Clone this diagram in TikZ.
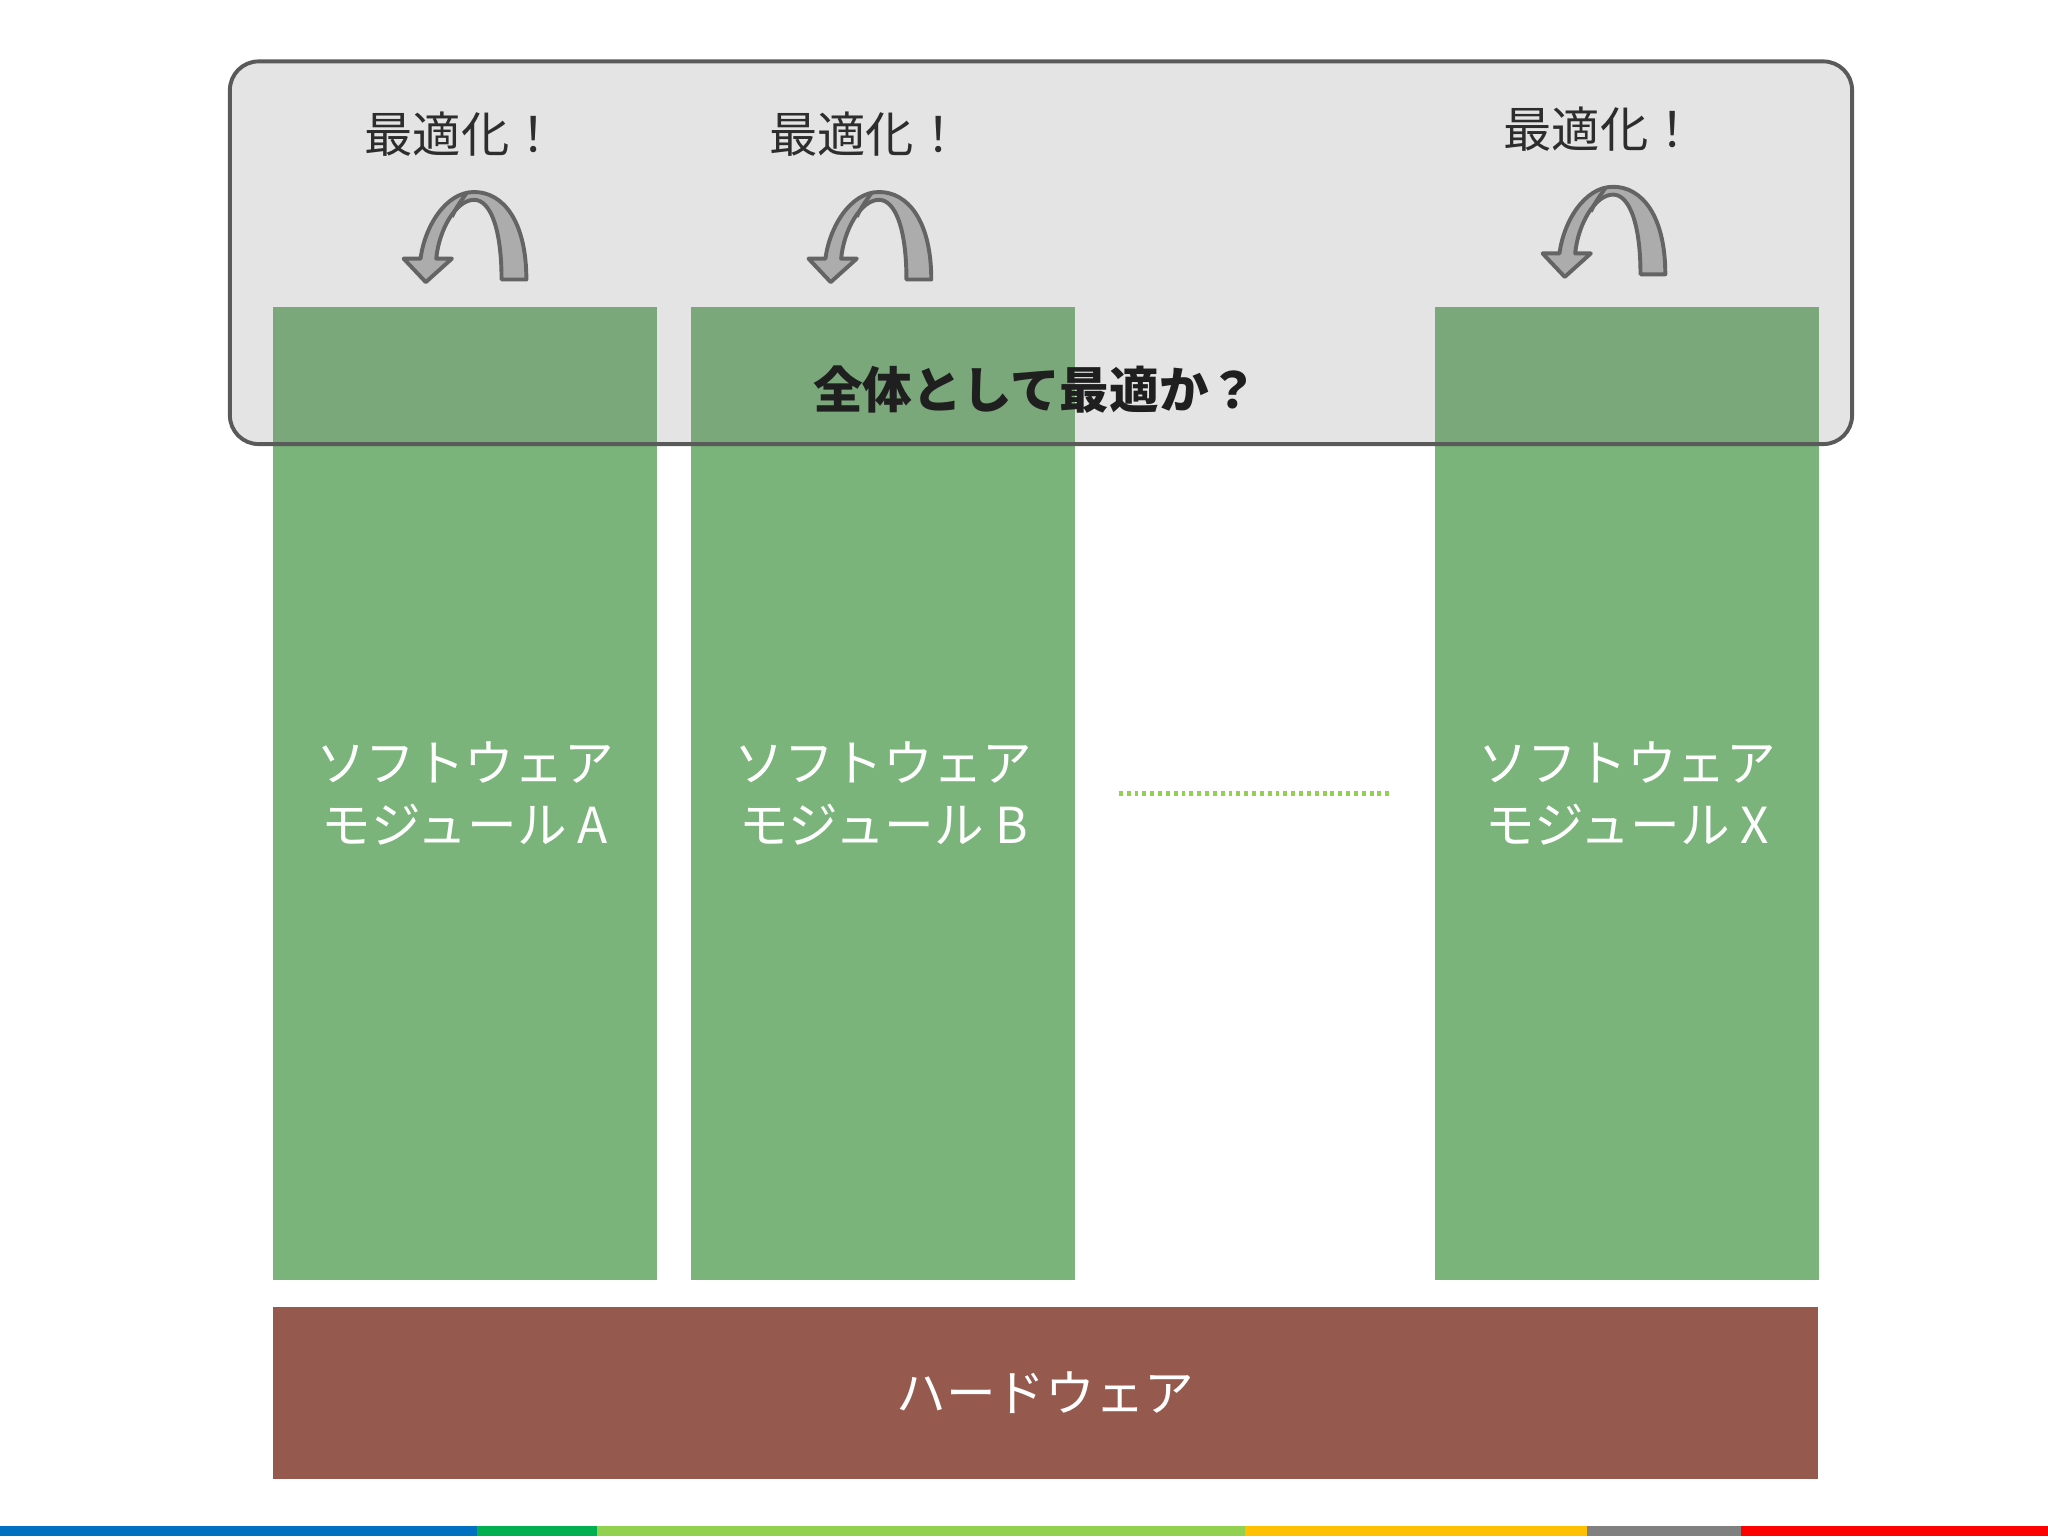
\documentclass[tikz,border=0pt]{standalone}
\usepackage{fontspec}
\setmainfont{Noto Sans CJK JP}
\usetikzlibrary{positioning}
\definecolor{colgreen}{RGB}{122,180,122}
\definecolor{hwbrown}{RGB}{149,89,77}
\definecolor{frameedge}{RGB}{90,90,90}
\definecolor{framefill}{RGB}{128,128,128}
\definecolor{arrowgray}{RGB}{172,172,172}
\definecolor{arrowedge}{RGB}{100,100,100}
\definecolor{dotgreen}{RGB}{146,208,80}
\definecolor{labelgray}{RGB}{45,45,45}
\definecolor{barblue}{RGB}{0,112,192}
\definecolor{bargreen}{RGB}{0,176,80}
\definecolor{barlime}{RGB}{146,208,80}
\definecolor{baryellow}{RGB}{255,192,0}
\definecolor{bargray}{RGB}{128,128,128}
\definecolor{barred}{RGB}{255,0,0}
\begin{document}
\begin{tikzpicture}[x=1pt, y=-1pt,
    module/.style={fill=colgreen, minimum width=294pt, minimum height=745pt, inner sep=0pt,
        text=white, align=center, font=\fontsize{38}{48}\selectfont},
    optlabel/.style={text=labelgray, inner sep=0pt, font=\fontsize{37}{40}\selectfont},
    turn/.style={fill=arrowgray, draw=arrowedge, line width=3pt, line join=round}]
    \useasboundingbox (0,0) rectangle (1568,1176);
    \fill[white] (0,0) rectangle (1568,1176);

    % software modules and hardware
    \node[module] (modA) at (356,607.5) {ソフトウェア\\モジュール A};
    \node[module, right=26pt of modA] (modB) {ソフトウェア\\モジュール B};
    \node[module, right=275pt of modB] (modX) {ソフトウェア\\モジュール X};
    \node[fill=hwbrown, minimum width=1183pt, minimum height=131pt, inner sep=0pt, text=white,
        font=\fontsize{38}{40}\selectfont] (hw) at (800.5,1066.5) {ハードウェア};
    \draw[dotgreen, line width=4pt, dash pattern=on 3pt off 3pt] ([xshift=33pt]modB.east) -- ([xshift=-33pt]modX.west);

    % whole system frame
    \filldraw[draw=frameedge, line width=3pt, fill=framefill, fill opacity=0.21, rounded corners=22pt]
        (176,47) rectangle (1418,340);
    \node[text=black!88, inner sep=0pt, font=\bfseries\fontsize{38}{40}\selectfont] (whole) at (793,298) {全体として最適か？};

    % local optimisation arrows
    \foreach \n/\x/\y in {A/363/214, B/673/214, X/1235/210} {
        \coordinate (turn\n) at (\x,\y);
        \filldraw[turn, shift={(turn\n)}] (40,0) .. controls (40,-45) and (22,-67) .. (0,-67)
            .. controls (-22,-67) and (-38,-40) .. (-41,-16) -- (-54,-16) -- (-37,2) -- (-17,-16) -- (-29,-16)
            .. controls (-27,-38) and (-14,-61) .. (0,-61) .. controls (12,-61) and (21,-40) .. (21,0) -- cycle;
        \draw[arrowedge, line width=3pt, shift={(turn\n)}] (-6,-66) .. controls (-10,-60) and (-14,-55) .. (-17,-48);
        \node[optlabel] (opt\n) at ([shift={(-10,-111)}]turn\n) {最適化！};
    }

    % colour bar
    \foreach \a/\b/\c in {0/365/barblue, 365/457/bargreen, 457/953/barlime, 953/1215/baryellow, 1215/1333/bargray, 1333/1568/barred}
        \fill[\c] (\a,1168) rectangle (\b,1176);
\end{tikzpicture}
\end{document}
